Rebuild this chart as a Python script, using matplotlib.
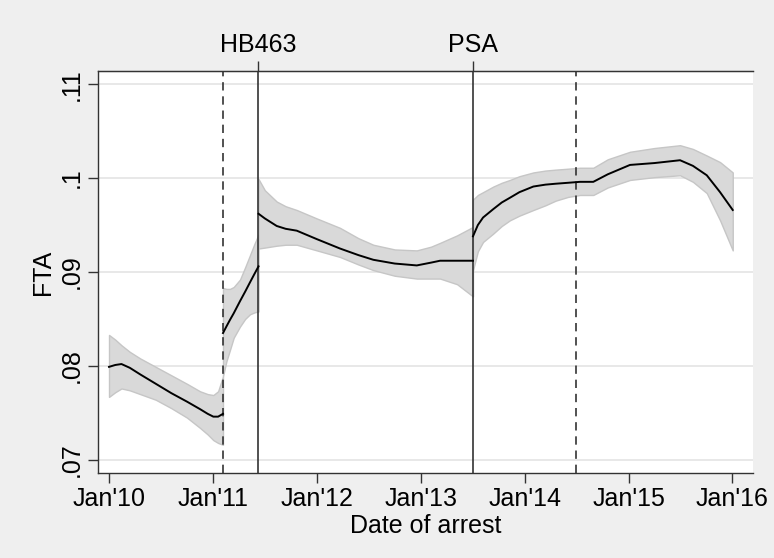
import numpy as np
import matplotlib
matplotlib.use('Agg')
import matplotlib.pyplot as plt

plt.rcParams['font.family'] = ['Liberation Sans', 'DejaVu Sans']

# time in years since Jan 2010
seg1_t = [0.0, 0.06, 0.12, 0.2, 0.3, 0.45, 0.6, 0.75, 0.876, 0.95, 1.004, 1.05, 1.097]
seg1_y = [.0799, .0801, .0802, .0798, .0791, .0781, .0771, .0762, .0754, .0749, .0746, .0746, .0749]
seg1_hi = [.0833, .0828, .0822, .0815, .0808, .0799, .0790, .0781, .0773, .0770, .0769, .0773, .0789]
seg1_lo = [.0767, .0772, .0776, .0774, .0770, .0764, .0755, .0745, .0734, .0727, .0721, .0718, .0716]

seg2_t = [1.097, 1.13, 1.164, 1.2, 1.261, 1.31, 1.357, 1.40, 1.439]
seg2_y = [.0835, .0842, .0849, .0856, .0869, .0879, .0889, .0898, .0906]
seg2_hi = [.0883, .0882, .0882, .0884, .0892, .0905, .0918, .0930, .0940]
seg2_lo = [.0789, .0805, .0817, .0830, .0842, .0850, .0855, .0857, .0858]

seg3_t = [1.439, 1.5, 1.614, 1.7, 1.807, 2.0, 2.223, 2.4, 2.544, 2.75, 2.962, 3.1, 3.186, 3.35, 3.503]
seg3_y = [.0962, .0957, .0949, .0946, .0944, .0935, .0925, .0918, .0913, .0909, .0907, .0910, .0912, .0912, .0912]
seg3_hi = [.0999, .0987, .0975, .0970, .0966, .0957, .0947, .0936, .0929, .0924, .0923, .0927, .0931, .0939, .0948]
seg3_lo = [.0925, .0926, .0928, .0929, .0929, .0923, .0916, .0908, .0902, .0896, .0893, .0893, .0893, .0887, .0874]

seg4_t = [3.503, 3.55, 3.6, 3.699, 3.78, 3.858, 3.95, 4.084, 4.2, 4.3, 4.42, 4.533, 4.661,
          4.8, 5.014, 5.25, 5.496, 5.62, 5.753, 5.881, 6.003]
seg4_y = [.0938, .0950, .0958, .0967, .0974, .0979, .0985, .0991, .0993, .0994, .0995, .0996, .0996,
          .1004, .1014, .1016, .1019, .1013, .1003, .0985, .0966]
seg4_hi = [.0977, .0982, .0985, .0991, .0995, .0998, .1002, .1006, .1008, .1009, .1010, .1011, .1011,
           .1020, .1028, .1032, .1035, .1031, .1024, .1017, .1006]
seg4_lo = [.0902, .0922, .0932, .0941, .0949, .0955, .0960, .0966, .0971, .0976, .0980, .0982, .0982,
           .0990, .0998, .1001, .1003, .0996, .0984, .0955, .0923]

segments = [(seg1_t, seg1_y, seg1_lo, seg1_hi), (seg2_t, seg2_y, seg2_lo, seg2_hi),
            (seg3_t, seg3_y, seg3_lo, seg3_hi), (seg4_t, seg4_y, seg4_lo, seg4_hi)]

dashed_x = [1.097, 4.495]
event_x = [1.434, 3.503]
event_labels = ['HB463', 'PSA']

xticks = [0, 1, 2, 3, 4, 5, 6]
xlabels = ["Jan'10", "Jan'11", "Jan'12", "Jan'13", "Jan'14", "Jan'15", "Jan'16"]
yticks = [.07, .08, .09, .10, .11]
ylabels = ['.07', '.08', '.09', '.1', '.11']

bg = '#efefef'
fs = 18
fig = plt.figure(figsize=(7.74, 5.58), dpi=100, facecolor=bg)
ax = fig.add_axes([98 / 774, 1 - 473 / 558, (753 - 98) / 774, (473 - 71) / 558])
ax.set_facecolor('white')

for y in yticks:
    ax.axhline(y, color='#e6e6e6', lw=1.3, zorder=0)

for t, y, lo, hi in segments:
    ax.fill_between(t, lo, hi, facecolor='#d9d9d9', edgecolor='#c6c6c6', lw=1, zorder=1)
    ax.plot(t, y, color='black', lw=1.4, zorder=3, solid_joinstyle='round')

for x in dashed_x:
    ax.axvline(x, color='#333333', lw=1.2, ls=(0, (5, 3.5)), zorder=2)
for x in event_x:
    ax.axvline(x, color='#333333', lw=1.2, zorder=2)

ax.set_xlim(-0.106, 6.198)
ax.set_ylim(0.0686, 0.1114)

ax.set_xticks(xticks)
ax.set_xticklabels(xlabels)
ax.set_yticks(yticks)
ax.set_yticklabels(ylabels, rotation=90, va='center')
ax.tick_params(axis='both', direction='out', length=7, width=1, color='#333333',
               labelsize=fs, pad=3)

ax.spines['right'].set_visible(False)
for side in ['left', 'bottom', 'top']:
    ax.spines[side].set_color('#333333')
    ax.spines[side].set_linewidth(1)

ax.set_xlabel('Date of arrest', fontsize=fs, labelpad=2)
ax.set_ylabel('FTA', fontsize=fs, labelpad=4)

top = ax.secondary_xaxis('top')
top.set_xticks(event_x)
top.set_xticklabels(event_labels)
top.tick_params(direction='out', length=7, width=1, color='#333333', labelsize=fs, pad=3)
top.spines['top'].set_color('#333333')

fig.savefig('out.png', dpi=100, facecolor=bg)
